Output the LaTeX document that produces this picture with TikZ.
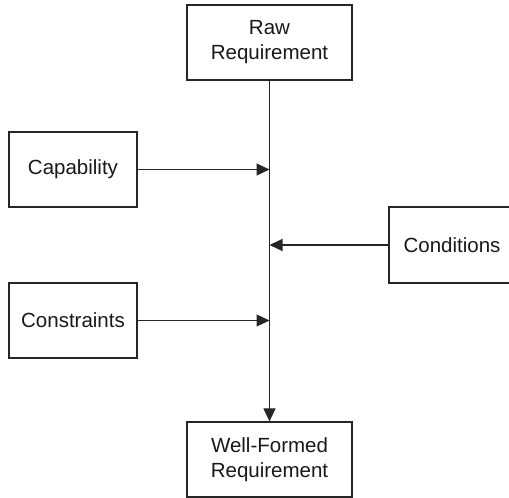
\documentclass[tikz,border=0pt]{standalone}
\usepackage{fontspec}
\setmainfont{Liberation Sans}
\usetikzlibrary{arrows.meta}
\begin{document}
\begin{tikzpicture}[x=1pt,y=1pt,
  box/.style={draw=black!85, line width=1.2pt, fill=white, inner sep=0pt, align=center,
    font=\fontsize{20.5}{25}\selectfont, text=black!90},
  conn/.style={draw=black!85, line width=1.2pt},
  tip/.style={-{Triangle[length=13pt,width=12pt]}}]
\clip (0,0) rectangle (509,498);
\useasboundingbox (0,0) rectangle (509,498);
\node[box, minimum width=165pt, minimum height=75pt] (raw) at (269.5,455.5) {Raw\\Requirement};
\node[box, minimum width=165pt, minimum height=75pt] (wf) at (269.5,38.5) {Well-Formed\\Requirement};
\node[box, minimum width=128pt, minimum height=75pt] (cap) at (73,328.5) {Capability};
\node[box, minimum width=126pt, minimum height=76pt] (cond) at (452,253) {Conditions};
\node[box, minimum width=128pt, minimum height=75pt] (cons) at (73,177.5) {Constraints};
\coordinate (pcap) at (raw.south |- cap.east);
\coordinate (pcond) at (raw.south |- cond.west);
\coordinate (pcons) at (raw.south |- cons.east);
\draw[conn, tip] (raw.south) -- (wf.north);
\draw[conn, tip] (cap.east) -- (pcap);
\draw[conn, tip] (cond.west) -- (pcond);
\draw[conn, tip] (cons.east) -- (pcons);
\end{tikzpicture}
\end{document}
